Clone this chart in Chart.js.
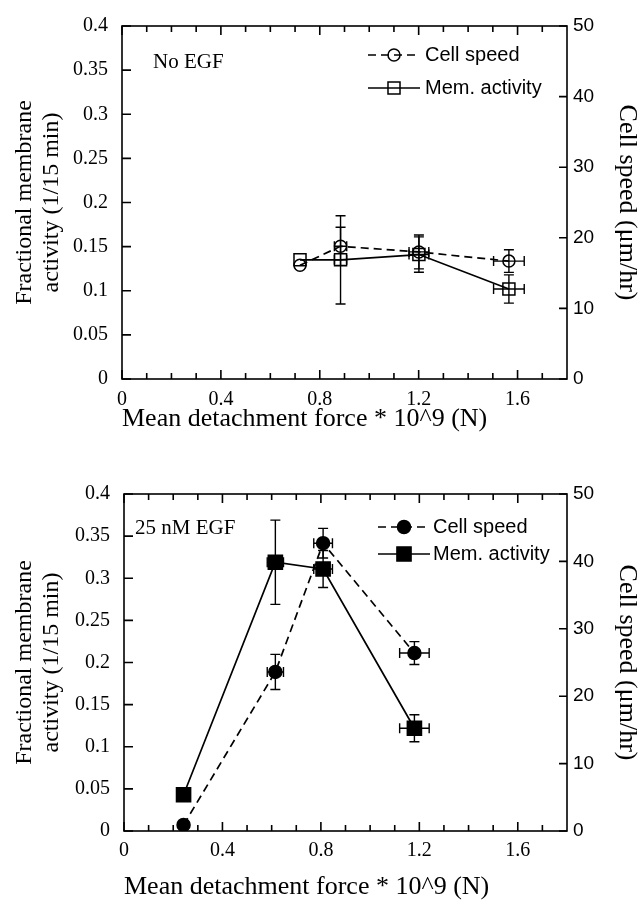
<!DOCTYPE html>
<html>
<head>
<meta charset="utf-8">
<script src="https://cdn.jsdelivr.net/npm/chart.js@4.4.1/dist/chart.umd.min.js"></script>
<style>
  body { margin: 0; background: #fff; }
  canvas { position: absolute; left: 0; }
  #top { top: 0; }
  #bottom { top: 440px; }
</style>
</head>
<body>
<canvas id="top" width="643" height="440"></canvas>
<canvas id="bottom" width="643" height="460"></canvas>
<script>
// No EGF
const forceNoEGF = [0.72, 0.884, 1.201, 1.565];
const forceErrNoEGF = [0, 0.025, 0.04, 0.062];
const memNoEGF = [0.135, 0.135, 0.141, 0.102];
const memErrNoEGF = [0, 0.05, 0.02, 0.016];
const speedNoEGF = [16.1, 18.8, 18.0, 16.7];
const speedErrNoEGF = [0, 2.7, 2.4, 1.6];

// 25 nM EGF
const forceEGF = [0.242, 0.615, 0.809, 1.18];
const forceErrEGF = [0, 0.033, 0.038, 0.06];
const memEGF = [0.043, 0.319, 0.311, 0.122];
const memErrEGF = [0, 0.05, 0.022, 0.016];
const speedEGF = [0.9, 23.6, 42.7, 26.4];
const speedErrEGF = [0, 2.6, 2.2, 1.7];

// tick labels
const xTicks = [0, 0.4, 0.8, 1.2, 1.6];
const xMinorTicks = [0.1, 0.2, 0.3, 0.5, 0.6, 0.7, 0.9, 1.0, 1.1, 1.3, 1.4, 1.5, 1.7];
const memTicks = [0, 0.05, 0.1, 0.15, 0.2, 0.25, 0.3, 0.35, 0.4];
const speedTicks = [0, 10, 20, 30, 40, 50];

Chart.defaults.color = '#000';
Chart.defaults.font.family = 'Liberation Serif';

const serif = 'Liberation Serif';
const sans = 'Liberation Sans';
const fmt = v => String(+Number(v).toFixed(2));

// box + inward ticks
const frameTicks = {
  id: 'frameTicks',
  afterDraw(chart) {
    const { ctx, chartArea: a, scales } = chart;
    ctx.save();
    ctx.strokeStyle = '#000';
    ctx.lineWidth = 1.6;
    ctx.strokeRect(a.left, a.top, a.right - a.left, a.bottom - a.top);
    ctx.beginPath();
    xTicks.forEach(v => {
      const x = scales.x.getPixelForValue(v);
      ctx.moveTo(x, a.bottom); ctx.lineTo(x, a.bottom - 9);
      ctx.moveTo(x, a.top); ctx.lineTo(x, a.top + 9);
    });
    xMinorTicks.forEach(v => {
      const x = scales.x.getPixelForValue(v);
      ctx.moveTo(x, a.bottom); ctx.lineTo(x, a.bottom - 6);
      ctx.moveTo(x, a.top); ctx.lineTo(x, a.top + 6);
    });
    memTicks.forEach(v => {
      const y = scales.y.getPixelForValue(v);
      ctx.moveTo(a.left, y); ctx.lineTo(a.left + 9, y);
    });
    speedTicks.forEach(v => {
      const y = scales.y2.getPixelForValue(v);
      ctx.moveTo(a.right, y); ctx.lineTo(a.right - 8, y);
    });
    ctx.stroke();
    ctx.restore();
  }
};

// x and y error bars with caps
const errorBars = {
  id: 'errorBars',
  afterDatasetsDraw(chart) {
    const ctx = chart.ctx;
    const xs = chart.scales.x;
    ctx.save();
    ctx.strokeStyle = '#000';
    ctx.lineWidth = 1.4;
    chart.data.datasets.forEach(ds => {
      const ys = chart.scales[ds.yAxisID];
      ds.data.forEach((p, i) => {
        const x = xs.getPixelForValue(p.x);
        const y = ys.getPixelForValue(p.y);
        const ye = ds.yErr[i], xe = ds.xErr[i];
        ctx.beginPath();
        if (ye) {
          const y0 = ys.getPixelForValue(p.y - ye), y1 = ys.getPixelForValue(p.y + ye);
          ctx.moveTo(x, y0); ctx.lineTo(x, y1);
          ctx.moveTo(x - 5, y0); ctx.lineTo(x + 5, y0);
          ctx.moveTo(x - 5, y1); ctx.lineTo(x + 5, y1);
        }
        if (xe) {
          const x0 = xs.getPixelForValue(p.x - xe), x1 = xs.getPixelForValue(p.x + xe);
          ctx.moveTo(x0, y); ctx.lineTo(x1, y);
          ctx.moveTo(x0, y - 5); ctx.lineTo(x0, y + 5);
          ctx.moveTo(x1, y - 5); ctx.lineTo(x1, y + 5);
        }
        ctx.stroke();
      });
    });
    ctx.restore();
  }
};

// legend in the corner + panel note
const sketchLegend = {
  id: 'sketchLegend',
  afterDraw(chart, args, opts) {
    const ctx = chart.ctx;
    ctx.save();
    chart.data.datasets.forEach((ds, k) => {
      const y = opts.rows[k];
      ctx.strokeStyle = '#000';
      ctx.lineWidth = 1.7;
      ctx.setLineDash(ds.borderDash || []);
      ctx.beginPath();
      ctx.moveTo(opts.x0, y); ctx.lineTo(opts.x1, y);
      ctx.stroke();
      ctx.setLineDash([]);
      ctx.fillStyle = ds.pointBackgroundColor;
      ctx.lineWidth = 1.5;
      Chart.helpers.drawPoint(ctx, {
        pointStyle: ds.pointStyle, radius: ds.pointRadius, borderWidth: 1.5, rotation: 0
      }, (opts.x0 + opts.x1) / 2, y);
      ctx.fillStyle = '#000';
      ctx.font = '20px "' + sans + '"';
      ctx.textBaseline = 'middle';
      ctx.fillText(ds.label, opts.tx, y);
    });
    ctx.font = '21px "' + serif + '"';
    ctx.textBaseline = 'middle';
    ctx.fillText(opts.note, opts.noteX, opts.noteY);
    ctx.restore();
  }
};

function makeChart(id, force, forceErr, mem, memErr, speed, speedErr, look) {
  const pts = arr => force.map((x, i) => ({ x: x, y: arr[i] }));
  return new Chart(document.getElementById(id), {
    type: 'scatter',
    data: {
      datasets: [{
        label: 'Cell speed',
        data: pts(speed),
        yAxisID: 'y2',
        showLine: true,
        borderColor: '#000',
        borderWidth: 1.7,
        borderDash: [8, 5],
        pointStyle: 'circle',
        pointRadius: look.circleR,
        pointBackgroundColor: look.fill,
        pointBorderColor: '#000',
        pointBorderWidth: 1.5,
        xErr: forceErr,
        yErr: speedErr
      }, {
        label: 'Mem. activity',
        data: pts(mem),
        yAxisID: 'y',
        showLine: true,
        borderColor: '#000',
        borderWidth: 1.7,
        pointStyle: 'rect',
        pointRadius: look.rectR,
        pointBackgroundColor: look.fill,
        pointBorderColor: '#000',
        pointBorderWidth: 1.5,
        xErr: forceErr,
        yErr: memErr
      }]
    },
    options: {
      responsive: false,
      animation: false,
      events: [],
      layout: { padding: { top: look.top, left: 0, right: 0, bottom: 0 } },
      plugins: {
        legend: { display: false },
        tooltip: { enabled: false },
        sketchLegend: look.legend
      },
      scales: {
        x: {
          type: 'linear',
          min: 0, max: 1.8,
          grid: { display: false, drawTicks: false },
          border: { display: false },
          afterBuildTicks: s => { s.ticks = xTicks.map(v => ({ value: v })); },
          afterFit: s => { s.height = look.xHeight; },
          ticks: { padding: look.xPad, font: { family: serif, size: 20 }, callback: fmt, maxRotation: 0, autoSkip: false },
          title: {
            display: true, align: 'start',
            text: 'Mean detachment force * 10^9 (N)',
            font: { family: serif, size: 26 },
            padding: { top: 0, bottom: look.xTitlePad }
          }
        },
        y: {
          type: 'linear', position: 'left',
          min: 0, max: 0.4,
          grid: { display: false, drawTicks: false },
          border: { display: false },
          afterBuildTicks: s => { s.ticks = memTicks.map(v => ({ value: v })); },
          afterFit: s => { s.width = look.left; },
          ticks: { padding: 14, font: { family: serif, size: 20 }, callback: fmt, autoSkip: false },
          title: {
            display: true,
            text: ['Fractional membrane', 'activity (1/15 min)'],
            font: { family: serif, size: 24, lineHeight: 1.1 },
            padding: { top: 12, bottom: 0 }
          }
        },
        y2: {
          type: 'linear', position: 'right',
          min: 0, max: 50,
          grid: { display: false, drawTicks: false },
          border: { display: false },
          afterBuildTicks: s => { s.ticks = speedTicks.map(v => ({ value: v })); },
          afterFit: s => { s.width = 76; },
          ticks: { padding: 6, font: { family: sans, size: 19 }, autoSkip: false },
          title: {
            display: true,
            text: 'Cell speed (\u03bcm/hr)',
            font: { family: serif, size: 26 },
            padding: { top: 1, bottom: 0 }
          }
        }
      }
    },
    plugins: [errorBars, frameTicks, sketchLegend]
  });
}

makeChart('top', forceNoEGF, forceErrNoEGF, memNoEGF, memErrNoEGF, speedNoEGF, speedErrNoEGF, {
  top: 23, left: 122, xHeight: 61, xPad: 9, xTitlePad: 5,
  circleR: 6, rectR: 8.5, fill: 'rgba(0,0,0,0)',
  legend: { x0: 368, x1: 420, tx: 425, rows: [55, 88], note: 'No EGF', noteX: 153, noteY: 62 }
});

makeChart('bottom', forceEGF, forceErrEGF, memEGF, memErrEGF, speedEGF, speedErrEGF, {
  top: 54, left: 124, xHeight: 69, xPad: 8, xTitlePad: -3,
  circleR: 6.5, rectR: 10, fill: '#000',
  legend: { x0: 378, x1: 430, tx: 433, rows: [87, 114], note: '25 nM EGF', noteX: 135, noteY: 88 }
});
</script>
</body>
</html>
